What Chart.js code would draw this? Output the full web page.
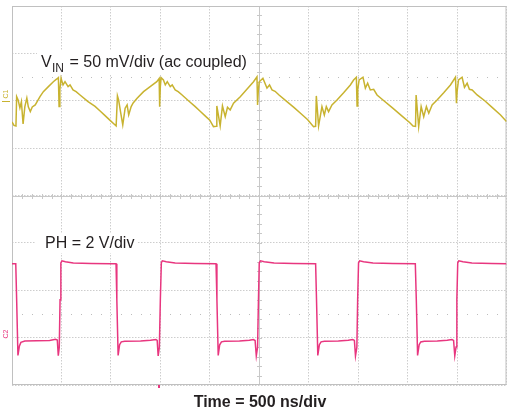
<!DOCTYPE html>
<html>
<head>
<meta charset="utf-8">
<script src="https://cdn.jsdelivr.net/npm/chart.js@4.4.1/dist/chart.umd.min.js"></script>
<style>
  html, body { margin: 0; padding: 0; background: #fff; }
  #wrap { width: 508px; height: 415px; }
</style>
</head>
<body>
<div id="wrap"><canvas id="scope" width="508" height="415"></canvas></div>
<script>
// CH1: input ripple, time in ns, value in mV (ac coupled)
const ch1Time = [0, 20, 40, 47, 62, 80, 95, 112, 130, 150, 165, 185, 205, 235, 283, 317, 368, 418, 453, 469, 476, 484, 496, 516, 536, 567, 587, 617, 648, 688, 769, 840, 891, 941, 992, 1037, 1053,
  1066, 1078, 1098, 1120, 1144, 1164, 1180, 1205, 1225, 1265, 1330, 1397, 1464, 1488, 1493, 1500, 1508, 1531, 1550, 1570, 1600, 1620, 1650, 1680, 1720, 1790, 1850, 1900, 1950, 2000, 2037,
  2066, 2071, 2105, 2128, 2156, 2179, 2206, 2240, 2308, 2375, 2442, 2477, 2483, 2490, 2500, 2537, 2578, 2604, 2629, 2660, 2700, 2780, 2850, 2920, 2990, 3049,
  3070, 3077, 3100, 3134, 3158, 3178, 3201, 3235, 3286, 3353, 3421, 3454, 3482, 3489, 3496, 3510, 3549, 3573, 3596, 3623, 3657, 3691, 3760, 3850, 3950, 4020, 4055,
  4080, 4086, 4112, 4137, 4163, 4190, 4214, 4248, 4298, 4365, 4433, 4466, 4484, 4494, 4501, 4515, 4551, 4575, 4602, 4625, 4653, 4703, 4780, 4860, 4940, 5000];
const ch1mV = [-22.4, -26.0, -26.6, 4.3, 0.8, -7.6, -0.9, -24.5, -6.2, 2.9, -6.5, -11.5, -6.5, -4.4, 4.3, 9.6, 14.9, 20.1, 23.0, 24.4, -6.2, 12.0, 23.7, 16.7, 20.1, 14.9, 16.7, 11.4, 9.6, 6.1, -0.9, -5.9, -10.8, -15.7, -20.7, -25.1, -26.6,
  5.1, 0.8, -12.0, -25.5, -7.9, -4.4, -15.0, -6.2, -2.3, 2.6, 9.6, 14.9, 20.1, 23.5, -6.2, 15.0, 24.4, 21.9, 16.7, 20.1, 14.9, 16.7, 11.4, 9.6, 6.1, -0.5, -5.9, -10.8, -15.7, -20.5, -27.3,
  -27.0, -5.5, -26.6, -5.5, -16.8, -6.9, -9.7, -2.6, 4.3, 12.1, 20.1, 25.2, -4.4, 10.0, 20.0, 23.7, 13.3, 16.7, 11.4, 10.0, 6.0, -1.0, -7.0, -13.5, -20.0, -27.3,
  -27.0, 5.1, -26.6, -6.2, -15.0, -6.2, -11.5, -4.4, 0.8, 8.5, 16.7, 21.9, 24.8, -5.5, 12.0, 22.0, 24.8, 13.2, 18.5, 11.4, 12.1, 6.1, 0.0, -7.8, -16.8, -23.0, -26.6,
  -27.0, 6.1, -27.3, -6.2, -16.8, -6.2, -13.2, -4.4, 0.8, 8.5, 16.7, 21.9, 24.8, -2.6, 10.0, 22.0, 24.8, 14.2, 18.5, 12.1, 11.4, 6.1, 0.0, -7.5, -15.0, -22.0];

// CH2: switch node PH, time in ns, value in V
const ch2Time = [0, 38, 47, 60, 75, 90, 130, 250, 380, 440, 458, 468, 478, 486, 494, 505, 540, 620, 800, 1000, 1052,
  1060, 1073, 1088, 1105, 1140, 1300, 1400, 1455, 1468, 1478, 1490, 1500, 1510, 1520, 1560, 1650, 1850, 2063,
  2072, 2085, 2100, 2118, 2150, 2300, 2400, 2440, 2458, 2470, 2483, 2492, 2500, 2512, 2550, 2650, 2850, 3070,
  3079, 3092, 3108, 3125, 3160, 3300, 3400, 3445, 3462, 3473, 3487, 3495, 3504, 3515, 3555, 3650, 3850, 4078,
  4088, 4101, 4117, 4133, 4170, 4300, 4400, 4448, 4465, 4477, 4490, 4498, 4507, 4518, 4560, 4650, 4850, 5000];
const ch2Volt = [3.12, 3.12, 1.6, -0.75, -0.35, -0.2, -0.14, -0.13, -0.12, -0.07, -0.1, -0.76, -0.4, 1.6, 3.15, 3.24, 3.2, 3.15, 3.13, 3.12, 3.12,
  1.6, -0.75, -0.3, -0.18, -0.15, -0.14, -0.11, -0.08, -0.12, -0.77, -0.4, 1.6, 3.16, 3.24, 3.2, 3.15, 3.13, 3.12,
  1.6, -0.75, -0.3, -0.18, -0.15, -0.14, -0.11, -0.08, -0.12, -0.77, -0.4, 1.6, 3.16, 3.24, 3.2, 3.15, 3.13, 3.12,
  1.6, -0.75, -0.3, -0.18, -0.15, -0.14, -0.11, -0.08, -0.12, -0.77, -0.4, 1.6, 3.16, 3.24, 3.2, 3.15, 3.13, 3.12,
  1.6, -0.75, -0.3, -0.18, -0.15, -0.14, -0.11, -0.08, -0.12, -0.77, -0.4, 1.6, 3.16, 3.24, 3.2, 3.15, 3.13, 3.12];

// screen: 10 div x 500 ns, 8 div; CH1 50 mV/div, CH2 2 V/div
const timeRange = [0, 5000];
const ch1Range = [-300, 100];
const ch2Range = [-2, 14];
const dotRowsMV = [25, -225];

const YELLOW = '#c8b330';
const PINK = '#e8367f';
const FONT = '"Liberation Sans", Arial, sans-serif';

function pairs(ts, vs) {
    return ts.map((t, i) => ({ x: t, y: vs[i] }));
}

const scopeFrame = {
    id: 'scopeFrame',
    beforeDatasetsDraw(chart) {
        const ctx = chart.ctx;
        const a = chart.chartArea;
        const x = chart.scales.x, y = chart.scales.y;
        ctx.save();

        // sparse dot rows
        ctx.fillStyle = '#bdbdbd';
        dotRowsMV.forEach(v => {
            const py = Math.round(y.getPixelForValue(v));
            for (let t = 100; t < timeRange[1]; t += 100) {
                ctx.fillRect(Math.round(x.getPixelForValue(t)), py, 1, 1);
            }
        });

        // center cross with minor ticks
        const cx = Math.round(x.getPixelForValue(2500)) + 0.5;
        const cy = Math.round(y.getPixelForValue(-100)) + 0.5;
        ctx.strokeStyle = '#c8c8c8';
        ctx.lineWidth = 1;
        ctx.beginPath();
        ctx.moveTo(cx, a.top); ctx.lineTo(cx, a.bottom);
        ctx.moveTo(a.left, cy); ctx.lineTo(a.right, cy);
        for (let t = 100; t < timeRange[1]; t += 100) {
            const px = Math.round(x.getPixelForValue(t)) + 0.5;
            ctx.moveTo(px, cy - 2.5); ctx.lineTo(px, cy + 2.5);
        }
        for (let v = ch1Range[0] + 10; v < ch1Range[1]; v += 10) {
            const py = Math.round(y.getPixelForValue(v)) + 0.5;
            ctx.moveTo(cx - 2.5, py); ctx.lineTo(cx + 2.5, py);
        }
        ctx.stroke();

        // outer frame
        ctx.strokeStyle = '#c0c0c0';
        ctx.strokeRect(a.left + 0.5, a.top + 0.5, a.right - a.left - 1, a.bottom - a.top - 1);

        // trigger marker
        ctx.fillStyle = PINK;
        ctx.fillRect(Math.round(x.getPixelForValue(1490)) - 1, a.bottom, 2, 3);

        // channel markers
        const c1 = Math.round(y.getPixelForValue(0)) + 0.5;
        ctx.strokeStyle = YELLOW;
        ctx.beginPath(); ctx.moveTo(2, c1); ctx.lineTo(10, c1); ctx.stroke();
        ctx.font = '7px ' + FONT;
        ctx.textAlign = 'center';
        ctx.textBaseline = 'middle';
        ctx.fillStyle = YELLOW;
        ctx.save(); ctx.translate(6, 94); ctx.rotate(-Math.PI / 2); ctx.fillText('C1', 0, 0); ctx.restore();
        ctx.fillStyle = PINK;
        ctx.save(); ctx.translate(6, 334); ctx.rotate(-Math.PI / 2); ctx.fillText('C2', 0, 0); ctx.restore();

        // channel captions on white boxes
        ctx.fillStyle = '#fff';
        ctx.fillRect(37, 50, 214, 25);
        ctx.fillRect(35, 233, 103, 20);
        ctx.fillStyle = '#231f20';
        ctx.textAlign = 'left';
        ctx.textBaseline = 'alphabetic';
        ctx.font = '16px ' + FONT;
        ctx.fillText('V', 41, 67);
        ctx.font = '12px ' + FONT;
        ctx.fillText('IN', 52, 72);
        ctx.font = '16px ' + FONT;
        ctx.fillText(' = 50 mV/div (ac coupled)', 65, 67);
        ctx.fillText('PH = 2 V/div', 45, 248);

        // time base
        ctx.font = 'bold 16px ' + FONT;
        ctx.textAlign = 'center';
        ctx.fillText('Time = 500 ns/div', 260, 407);
        ctx.restore();
    }
};

document.addEventListener('DOMContentLoaded', function() {
    const ctx = document.getElementById('scope').getContext('2d');
    const scopeChart = new Chart(ctx, {
        type: 'line',
        data: {
            datasets: [{
                label: 'VIN',
                data: pairs(ch1Time, ch1mV),
                yAxisID: 'y',
                borderColor: YELLOW,
                borderWidth: 1.5,
                pointRadius: 0,
                tension: 0
            }, {
                label: 'PH',
                data: pairs(ch2Time, ch2Volt),
                yAxisID: 'y2',
                borderColor: PINK,
                borderWidth: 1.5,
                pointRadius: 0,
                tension: 0
            }]
        },
        options: {
            responsive: false,
            animation: false,
            events: [],
            layout: { padding: { left: 12, top: 6, right: 1.5, bottom: 30 } },
            plugins: {
                legend: { display: false },
                tooltip: { enabled: false }
            },
            scales: {
                x: {
                    type: 'linear',
                    min: timeRange[0],
                    max: timeRange[1],
                    ticks: { display: false, stepSize: 500 },
                    grid: { color: '#cdcdcd', drawTicks: false },
                    border: { display: false, dash: [1.5, 1.5] }
                },
                y: {
                    min: ch1Range[0],
                    max: ch1Range[1],
                    ticks: { display: false, stepSize: 50 },
                    grid: { color: '#cdcdcd', drawTicks: false },
                    border: { display: false, dash: [1.5, 1.5] }
                },
                y2: {
                    display: false,
                    min: ch2Range[0],
                    max: ch2Range[1]
                }
            }
        },
        plugins: [scopeFrame]
    });
});
</script>
</body>
</html>
